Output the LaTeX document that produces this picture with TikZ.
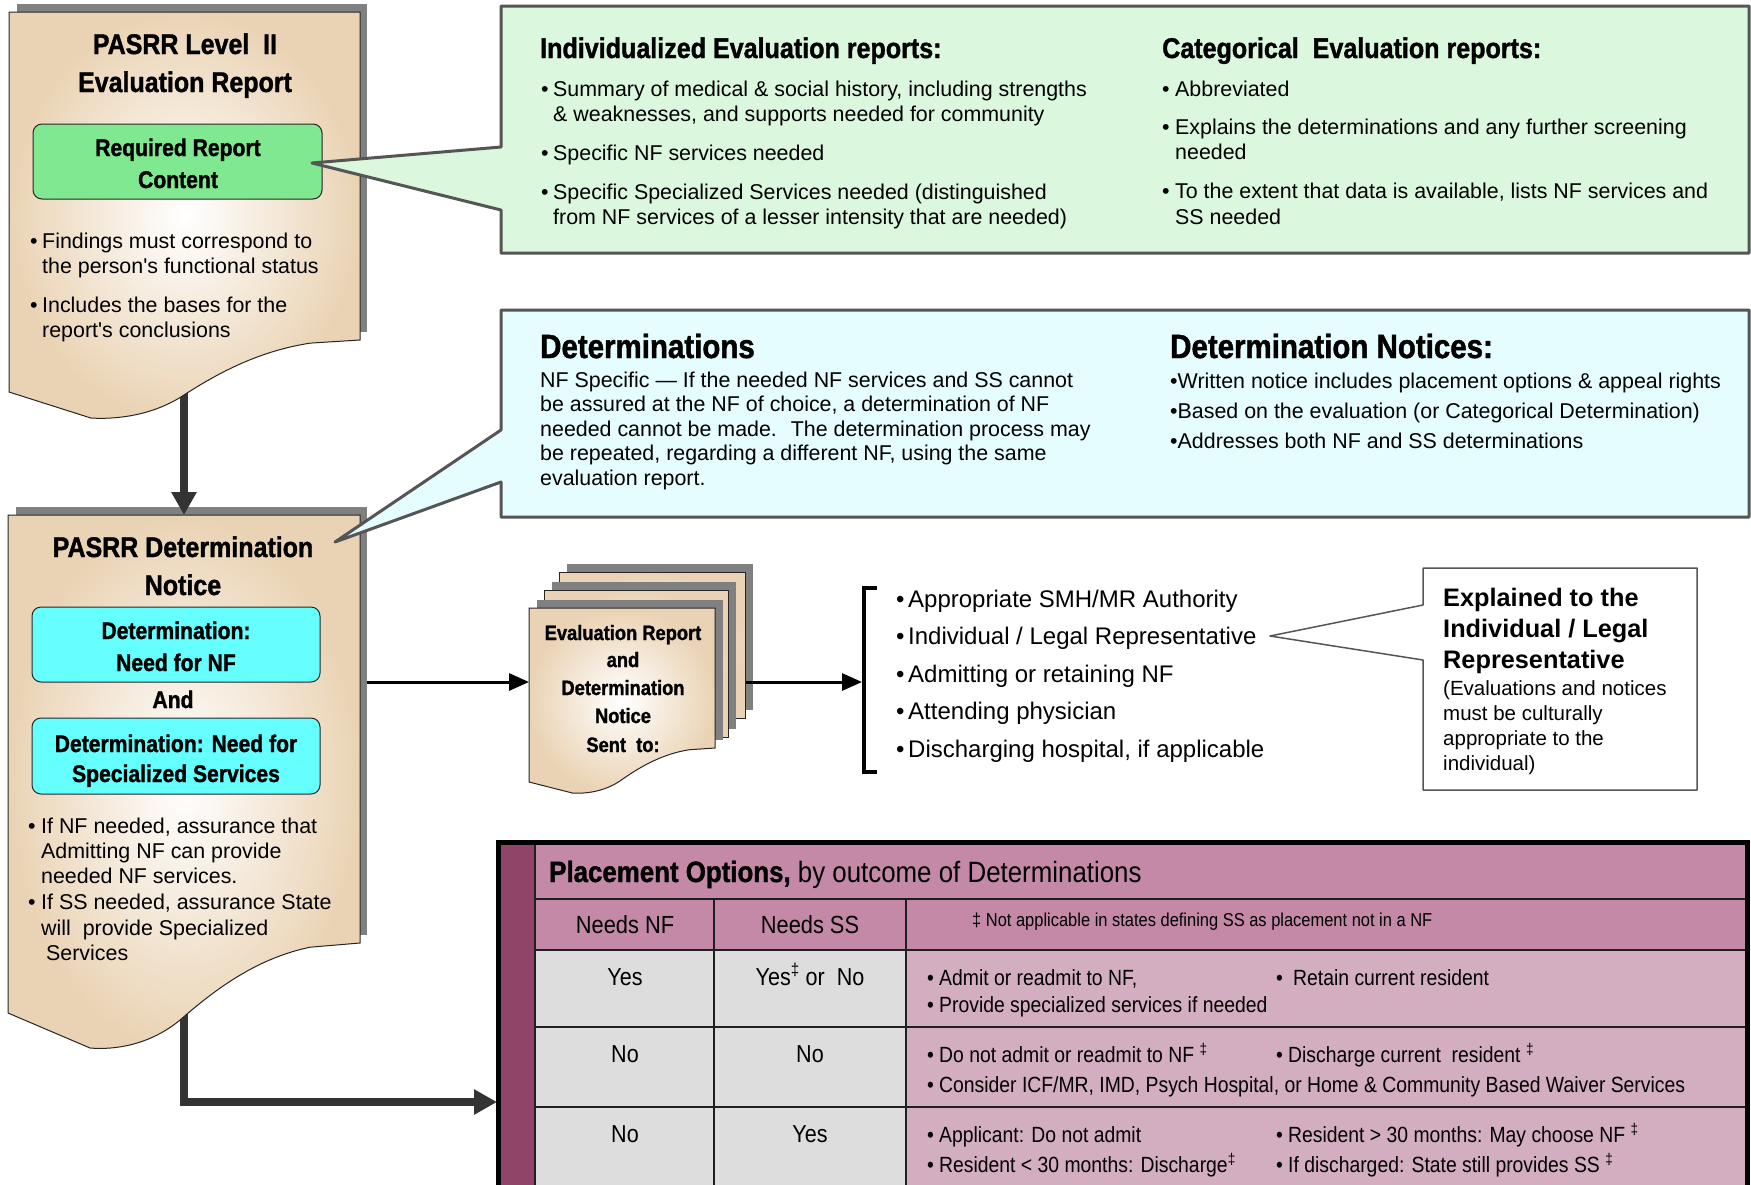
\documentclass[tikz,border=0pt]{standalone}
\usepackage{fontspec}
\setmainfont{Liberation Sans}
\newfontfamily\cond[FakeStretch=0.88,BoldFeatures={FakeBold=1.3}]{Liberation Sans}
\usetikzlibrary{arrows.meta}

\definecolor{doctan}{RGB}{234,211,180}
\definecolor{shadowgray}{RGB}{128,128,128}
\definecolor{reqgreen}{RGB}{128,232,144}
\definecolor{btncyan}{RGB}{102,255,255}
\definecolor{evalgreen}{RGB}{219,247,222}
\definecolor{detcyan}{RGB}{229,253,255}
\definecolor{boxedge}{RGB}{85,85,85}
\definecolor{arrowdark}{RGB}{51,51,51}
\definecolor{mauve}{RGB}{196,137,167}
\definecolor{lightmauve}{RGB}{211,173,192}
\definecolor{cellgray}{RGB}{221,221,221}
\definecolor{stripe}{RGB}{143,68,104}

% one line of text, left aligned / centred on its baseline
\newcommand\lineL[5][]{\node[anchor=base west,inner sep=0pt,#1] (#2) at (#3,#4) {#5};}
\newcommand\lineC[5][]{\node[anchor=base,inner sep=0pt,#1] (#2) at (#3,#4) {#5};}
% bulleted line: bullet at x=#3, text at x=#4, baseline #5
\newcommand\bitem[6][]{%
  \node[anchor=base west,inner sep=0pt,#1] (#2-b) at (#3,#5) {•};
  \node[anchor=base west,inner sep=0pt,#1] (#2) at (#4,#5) {#6};}
% page with a wavy lower edge
\newcommand\wavedoc[7]{%
  \path[#1] (#2,#3) -- (#4,#3) -- (#4,#5)
    -- ({#2+0.858*(#4-#2)},{#5+0.04*#6})
    .. controls ({#2+0.716*(#4-#2)},{#5+0.14*#6}) and ({#2+0.602*(#4-#2)},{#5+0.40*#6}) .. ({#2+0.489*(#4-#2)},{#5+0.733*#6})
    .. controls ({#2+0.403*(#4-#2)},{#5+0.971*#6}) and ({#2+0.304*(#4-#2)},{#5+1.02*#6}) .. ({#2+0.233*(#4-#2)},{#5+#6})
    -- (#2,#7) -- cycle;}

\begin{document}
\begin{tikzpicture}[x=1pt,y=-1pt,
  body/.style={font=\fontsize{21.4}{25}\selectfont},
  hgreen/.style={font=\cond\bfseries\fontsize{28.5}{30}\selectfont},
  hcyan/.style={font=\cond\bfseries\fontsize{33.5}{35}\selectfont},
  doctitle/.style={font=\cond\bfseries\fontsize{28.4}{30}\selectfont},
  btntext/.style={font=\cond\bfseries\fontsize{24}{26}\selectfont},
  stacktext/.style={font=\cond\bfseries\fontsize{20.8}{22}\selectfont},
  recip/.style={font=\fontsize{24}{26}\selectfont},
  explB/.style={font=\bfseries\fontsize{25.3}{27}\selectfont},
  explR/.style={font=\fontsize{20.5}{22}\selectfont},
  ttitle/.style={font=\cond\fontsize{29.4}{31}\selectfont},
  thead/.style={font=\cond\fontsize{24.8}{26}\selectfont},
  tcell/.style={font=\cond\fontsize{24.5}{26}\selectfont},
  tbody/.style={font=\cond\fontsize{22}{24}\selectfont},
  tnote/.style={font=\cond\fontsize{18.7}{20}\selectfont},
  docface/.style={shade,inner color=white,outer color=doctan,draw=black!85,line width=1},
  btnbox/.style={draw=black!85,line width=1,rounded corners=9,inner sep=0pt},
  speech/.style={draw=boxedge,line width=3,line join=round},
  bigarrow/.style={draw=arrowdark,line width=8,-{Triangle[length=23pt,width=24pt]}},
  thinarrow/.style={draw=black,line width=3,-{Triangle[length=20pt,width=17pt]}},
  tline/.style={draw=black!88,line width=2.5}]

\useasboundingbox (0,0) rectangle (1751,1184);
\clip (0,0) rectangle (1751,1184);
\fill[white] (0,0) rectangle (1751,1184);

% ---------- determination notice (left, lower) ----------
\coordinate (doc2-out) at (184,1000);
\coordinate (tbl-in) at (497,1102);
\draw[bigarrow] (doc2-out) |- (tbl-in);

\fill[shadowgray] (16,507) rectangle (367,935);
\wavedoc{docface}{8}{515}{360}{943}{105}{1013}

% ---------- arrow between the two reports ----------
\coordinate (doc1-out) at (184,380);
\coordinate (doc2-in) at (184,515);
\draw[bigarrow] (doc1-out) -- (doc2-in);

% ---------- evaluation report (left, upper) ----------
\fill[shadowgray] (17,4) rectangle (367,332);
\wavedoc{docface}{9}{12}{360}{340}{78}{392}

\lineC[doctitle]{t1a}{185}{54}{PASRR Level~ II}
\lineC[doctitle]{t1b}{185}{92}{Evaluation Report}
\node[btnbox,fill=reqgreen,minimum width=289pt,minimum height=75pt] (req) at (177.5,161.5) {};
\lineC[btntext]{req1}{178}{156}{Required Report}
\lineC[btntext]{req2}{178}{188}{Content}
\bitem[body]{f1}{30}{42}{248}{Findings must correspond to}
\lineL[body]{f1b}{42}{273}{the person\textquotesingle s functional status}
\bitem[body]{f2}{30}{42}{312}{Includes the bases for the}
\lineL[body]{f2b}{42}{337}{report\textquotesingle s conclusions}

\lineC[doctitle]{t2a}{183}{557}{PASRR Determination}
\lineC[doctitle]{t2b}{183}{595}{Notice}
\node[btnbox,fill=btncyan,minimum width=288pt,minimum height=75pt] (dnf) at (176,644.5) {};
\lineC[btntext]{dnf1}{176}{639}{Determination:}
\lineC[btntext]{dnf2}{176}{671}{Need for NF}
\lineC[btntext]{and}{173}{708}{And}
\node[btnbox,fill=btncyan,minimum width=288pt,minimum height=76pt] (dss) at (176,756) {};
\lineC[btntext]{dss1}{176}{752}{Determination: Need for}
\lineC[btntext]{dss2}{176}{782}{Specialized Services}
\bitem[body]{g1}{28}{41}{833}{If NF needed, assurance that}
\lineL[body]{g1b}{41}{858}{Admitting NF can provide}
\lineL[body]{g1c}{41}{883}{needed NF services.}
\bitem[body]{g2}{28}{41}{909}{If SS needed, assurance State}
\lineL[body]{g2b}{41}{935}{will~ provide Specialized}
\lineL[body]{g2c}{46}{960}{Services}

% ---------- evaluation report contents (green call-out) ----------
\path[speech,fill=evalgreen] (501,6) -- (1749,6) -- (1749,253) -- (501,253)
  -- (501,210) -- (312,163) -- (501,147) -- cycle;
\lineL[hgreen]{ih}{540}{58}{Individualized Evaluation reports:}
\bitem[body]{i1}{541}{553}{96}{Summary of medical \& social history, including strengths}
\lineL[body]{i1b}{553}{121}{\& weaknesses, and supports needed for community}
\bitem[body]{i2}{541}{553}{160}{Specific NF services needed}
\bitem[body]{i3}{541}{553}{199}{Specific Specialized Services needed (distinguished}
\lineL[body]{i3b}{553}{224}{from NF services of a lesser intensity that are needed)}
\lineL[hgreen]{ch}{1162}{58}{Categorical~ Evaluation reports:}
\bitem[body]{c1}{1162}{1175}{96}{Abbreviated}
\bitem[body]{c2}{1162}{1175}{134}{Explains the determinations and any further screening}
\lineL[body]{c2b}{1175}{159}{needed}
\bitem[body]{c3}{1162}{1175}{198}{To the extent that data is available, lists NF services and}
\lineL[body]{c3b}{1175}{224}{SS needed}

% ---------- determinations (cyan call-out) ----------
\path[speech,fill=detcyan] (501,310) -- (1749,310) -- (1749,517) -- (501,517)
  -- (501,482) -- (335,542) -- (501,430) -- cycle;
\lineL[hcyan]{dh}{540}{358}{Determinations}
\lineL[body]{d1}{540}{387}{NF Specific — If the needed NF services and SS cannot}
\lineL[body]{d2}{540}{411.5}{be assured at the NF of choice, a determination of NF}
\lineL[body]{d3}{540}{436}{needed cannot be made.~ The determination process may}
\lineL[body]{d4}{540}{460.5}{be repeated, regarding a different NF, using the same}
\lineL[body]{d5}{540}{485}{evaluation report.}
\lineL[hcyan]{nh}{1170}{358}{Determination Notices:}
\lineL[body]{n1}{1170}{388}{•Written notice includes placement options \& appeal rights}
\lineL[body]{n2}{1170}{418}{•Based on the evaluation (or Categorical Determination)}
\lineL[body]{n3}{1170}{448}{•Addresses both NF and SS determinations}

% ---------- copies sent out ----------
\fill[shadowgray] (567,564) rectangle (753,710);
\path[docface] (559,572) rectangle (745,718);
\fill[shadowgray] (552,582) rectangle (736,729);
\path[docface] (544,590) rectangle (728,737);
\fill[shadowgray] (537,600) rectangle (723,740);
\wavedoc{docface}{529}{608}{715}{748}{45}{782}
\lineC[stacktext]{s1}{623}{640}{Evaluation Report}
\lineC[stacktext]{s2}{623}{667}{and}
\lineC[stacktext]{s3}{623}{695}{Determination}
\lineC[stacktext]{s4}{623}{723}{Notice}
\lineC[stacktext]{s5}{623}{752}{Sent~ to:}

\coordinate (doc2-east) at (367,682);
\coordinate (stack-west) at (529,682);
\draw[thinarrow] (doc2-east) -- (stack-west);
\coordinate (stack-east) at (746,682);
\coordinate (bracket-in) at (862,682);
\draw[thinarrow] (stack-east) -- (bracket-in);

\draw[line width=3.5] (877,588) -- (864,588) -- (864,772) -- (877,772);
\bitem[recip]{p1}{896}{908}{607}{Appropriate SMH/MR Authority}
\bitem[recip]{p2}{896}{908}{644.5}{Individual / Legal Representative}
\bitem[recip]{p3}{896}{908}{682}{Admitting or retaining NF}
\bitem[recip]{p4}{896}{908}{719.5}{Attending physician}
\bitem[recip]{p5}{896}{908}{757}{Discharging hospital, if applicable}

% ---------- explanation call-out ----------
\path[draw=boxedge,line width=1.5,fill=white,line join=round] (1423,568) -- (1697,568) -- (1697,790)
  -- (1423,790) -- (1423,660) -- (1270,636) -- (1423,605) -- cycle;
\lineL[explB]{e1}{1443}{606}{Explained to the}
\lineL[explB]{e2}{1443}{637}{Individual / Legal}
\lineL[explB]{e3}{1443}{668}{Representative}
\lineL[explR]{e4}{1443}{695}{(Evaluations and notices}
\lineL[explR]{e5}{1443}{720}{must be culturally}
\lineL[explR]{e6}{1443}{745}{appropriate to the}
\lineL[explR]{e7}{1443}{770}{individual)}

% ---------- placement options table ----------
\fill[stripe] (500,842) rectangle (535,1200);
\fill[mauve] (535,845) rectangle (1745,950);
\fill[cellgray] (535,950) rectangle (906,1200);
\fill[lightmauve] (906,950) rectangle (1745,1200);
\draw[tline] (535,899) -- (1745,899);
\draw[tline] (535,950) -- (1745,950);
\draw[tline] (535,1027) -- (1745,1027);
\draw[tline] (535,1107) -- (1745,1107);
\draw[tline] (714,899) -- (714,1200);
\draw[tline] (906,899) -- (906,1200);
\draw[tline] (535,842) -- (535,1200);
\draw[line width=5] (498.5,842.5) rectangle (1747,1200);

\lineL[ttitle]{tt}{549}{882}{{\bfseries Placement Options,} by outcome of Determinations}
\lineC[thead]{h1}{625}{933}{Needs NF}
\lineC[thead]{h2}{810}{933}{Needs SS}
\lineL[tnote]{h3}{972}{926}{‡ Not applicable in states defining SS as placement not in a NF}

\lineC[tcell]{r1a}{625}{985}{Yes}
\lineC[tcell]{r1b}{810}{985}{Yes\textsuperscript{‡} or~ No}
\bitem[tbody]{r1c}{927}{939}{985}{Admit or readmit to NF,}
\bitem[tbody]{r1d}{1276}{1293}{985}{Retain current resident}
\bitem[tbody]{r1e}{927}{939}{1012}{Provide specialized services if needed}

\lineC[tcell]{r2a}{625}{1062}{No}
\lineC[tcell]{r2b}{810}{1062}{No}
\bitem[tbody]{r2c}{927}{939}{1062}{Do not admit or readmit to NF \textsuperscript{‡}}
\bitem[tbody]{r2d}{1276}{1288}{1062}{Discharge current~ resident \textsuperscript{‡}}
\bitem[tbody]{r2e}{927}{939}{1092}{Consider ICF/MR, IMD, Psych Hospital, or Home \& Community Based Waiver Services}

\lineC[tcell]{r3a}{625}{1142}{No}
\lineC[tcell]{r3b}{810}{1142}{Yes}
\bitem[tbody]{r3c}{927}{939}{1142}{Applicant: Do not admit}
\bitem[tbody]{r3d}{1276}{1288}{1142}{Resident > 30 months: May choose NF \textsuperscript{‡}}
\bitem[tbody]{r3e}{927}{939}{1172}{Resident < 30 months: Discharge\textsuperscript{‡}}
\bitem[tbody]{r3f}{1276}{1288}{1172}{If discharged: State still provides SS \textsuperscript{‡}}

\end{tikzpicture}
\end{document}
